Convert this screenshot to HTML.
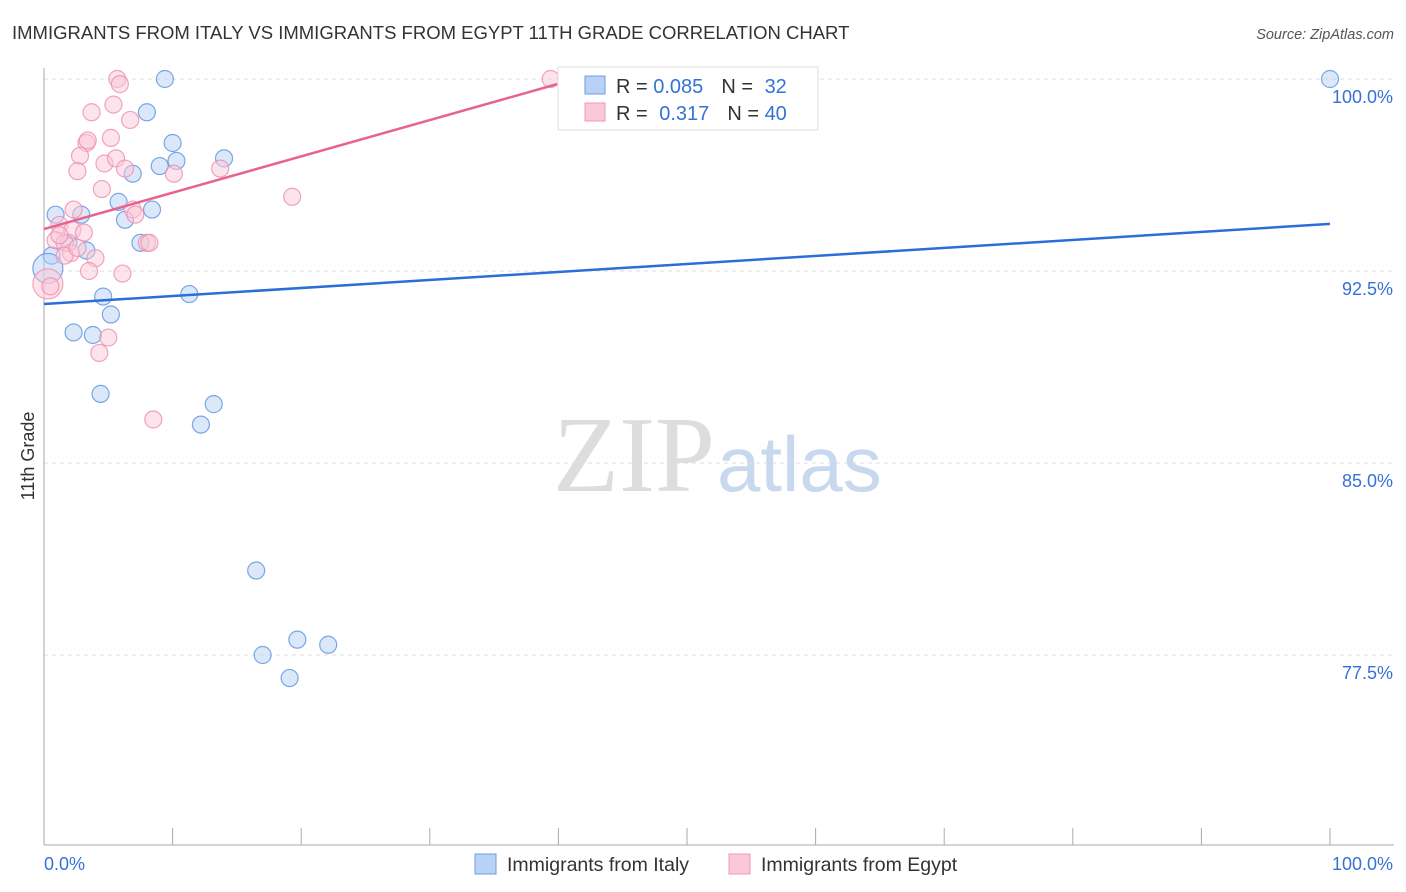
<!DOCTYPE html>
<html><head><meta charset="utf-8"><style>
body{margin:0;background:#fff;font-family:"Liberation Sans",sans-serif}
svg{display:block}
</style></head><body>
<svg id="c" width="1406" height="892">
<text x="12" y="39" font-size="18.5" fill="#333">IMMIGRANTS FROM ITALY VS IMMIGRANTS FROM EGYPT 11TH GRADE CORRELATION CHART</text>
<text x="1394" y="39" font-size="14.5" fill="#555" font-style="italic" text-anchor="end">Source: ZipAtlas.com</text>
<text x="715" y="491" font-size="108" font-family="Liberation Serif" fill="#ddd" text-anchor="end">ZIP</text>
<text x="717" y="491" font-size="78" fill="#c8d8ee">atlas</text>
<text transform="translate(34,456) rotate(-90)" font-size="18" fill="#333" text-anchor="middle">11th Grade</text>
<g id="grid"></g><g id="axes"></g><g id="pts"></g><g id="lines"></g>
<g>
<rect x="558" y="67" width="260" height="63" fill="#fff" stroke="#ddd"/>
<rect x="585" y="76" width="20" height="18" fill="#b8d2f5" stroke="#6d9ee0"/>
<rect x="585" y="103" width="20" height="18" fill="#fbc8d8" stroke="#ee9ab5"/>
<text x="616" y="93" font-size="20" fill="#333">R = <tspan fill="#3572d6">0.085</tspan><tspan dx="18">N = </tspan><tspan dx="6" fill="#3572d6">32</tspan></text>
<text x="616" y="120" font-size="20" fill="#333">R = <tspan dx="6" fill="#3572d6">0.317</tspan><tspan dx="18">N = </tspan><tspan fill="#3572d6">40</tspan></text>
</g>
<g>
<rect x="475" y="854" width="21" height="20" fill="#b8d2f5" stroke="#6d9ee0"/>
<text x="507" y="871" font-size="19.5" fill="#333">Immigrants from Italy</text>
<rect x="729" y="854" width="21" height="20" fill="#fbc8d8" stroke="#ee9ab5"/>
<text x="761" y="871" font-size="19.5" fill="#333">Immigrants from Egypt</text>
</g>
</svg>
<script>
const yTicks=[100,92.5,85,77.5];
const yTickLabels=["100.0%","92.5%","85.0%","77.5%"];
const xLabels=["0.0%","100.0%"];
const italyX=[0.9,1.9,2.9,3.3,4.6,5.2,2.3,3.8,4.4,5.8,6.3,6.9,7.5,8.0,8.4,9.0,9.4,10.0,10.3,11.3,12.2,13.2,14.0,16.5,17.0,19.1,19.7,22.1,100,0.6,0.3,44.8];
const italyY=[94.7,93.6,94.7,93.3,91.5,90.8,90.1,90.0,87.7,95.2,94.5,96.3,93.6,98.7,94.9,96.6,100,97.5,96.8,91.6,86.5,87.3,96.9,80.8,77.5,76.6,78.1,77.9,100,93.1,92.6,100];
const egyptX=[5.7,5.9,3.7,5.4,6.7,5.2,3.3,3.4,2.8,2.6,4.7,5.6,6.3,10.1,4.5,13.7,19.3,6.9,2.3,1.2,2.2,3.1,0.9,1.6,2.1,4.0,1.6,3.5,6.1,8.0,8.2,5.0,4.3,8.5,0.3,0.5,39.4,7.1,1.2,2.6];
const egyptY=[100,99.8,98.7,99.0,98.4,97.7,97.5,97.6,97.0,96.4,96.7,96.9,96.5,96.3,95.7,96.5,95.4,94.9,94.9,94.3,94.1,94.0,93.7,93.6,93.2,93.0,93.1,92.5,92.4,93.6,93.6,89.9,89.3,86.7,92.0,91.9,100,94.7,93.9,93.4];
const italyTrend=[[0,91.21],[100,94.34]];
const egyptTrend=[[0,94.14],[39.9,99.8]];
const ns="http://www.w3.org/2000/svg";
const X=v=>44+v*12.86, Y=v=>79+(100-v)*25.6;
function mk(t,a,p){const e=document.createElementNS(ns,t);for(const k in a)e.setAttribute(k,a[k]);document.getElementById(p).appendChild(e);return e;}
yTicks.forEach((t,i)=>{
 const g=mk('line',{x1:44,x2:1394,y1:Y(t),y2:Y(t),stroke:'#ddd','stroke-dasharray':'4,4'},'grid');
 
 
 const l=mk('text',{x:1393,y:Y(t)+24,'font-size':18,fill:'#3572d6','text-anchor':'end'},'grid');l.textContent=yTickLabels[i];
 
 
});
mk('line',{x1:44,x2:44,y1:68,y2:845,stroke:'#aaa'},'axes');
mk('line',{x1:44,x2:1394,y1:845,y2:845,stroke:'#aaa'},'axes');
for(let i=0;i<=10;i++){const t=mk('line',{x1:X(i*10),x2:X(i*10),y1:828,y2:845,stroke:'#aaa'},'axes');
 
 }
let a=mk('text',{x:44,y:870,'font-size':18,fill:'#3572d6'},'axes');a.textContent=xLabels[0];


a=mk('text',{x:1393,y:870,'font-size':18,fill:'#3572d6','text-anchor':'end'},'axes');a.textContent=xLabels[1];


function pts(xs,ys,fill,stroke,name,big){xs.forEach((x,i)=>{const c=mk('circle',{cx:X(x),cy:Y(ys[i]),r:(i===big?15:8.5),fill:fill,'fill-opacity':0.5,stroke:stroke,'stroke-opacity':0.8,'stroke-width':1.2},'pts');
 
 });}
pts(italyX,italyY,'#b8d2f5','#5d92dd','italy-point',30);
pts(egyptX,egyptY,'#fbc8d8','#ec8fae','egypt-point',34);
let ln=mk('line',{x1:X(italyTrend[0][0]),y1:Y(italyTrend[0][1]),x2:X(italyTrend[1][0]),y2:Y(italyTrend[1][1]),stroke:'#2a6fd6','stroke-width':2.5},'lines');


ln=mk('line',{x1:X(egyptTrend[0][0]),y1:Y(egyptTrend[0][1]),x2:X(egyptTrend[1][0]),y2:Y(egyptTrend[1][1]),stroke:'#e8638e','stroke-width':2.5},'lines');


</script>
</body></html>
